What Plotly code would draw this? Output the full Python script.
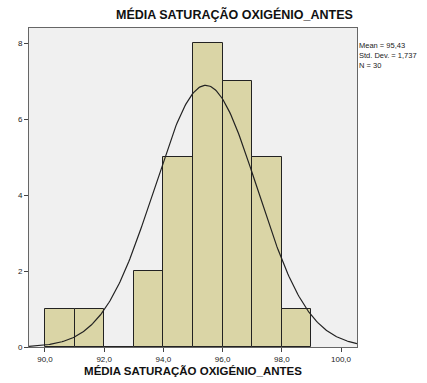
import numpy as np
import plotly.graph_objects as go

bin_starts = [90, 91, 92, 93, 94, 95, 96, 97, 98]
counts = [1, 1, 0, 2, 5, 8, 7, 5, 1]
mean = 95.43
std = 1.737
n = 30
bin_width = 1.0
x_ticks = [90, 92, 94, 96, 98, 100]
x_ticklabels = ["90,0", "92,0", "94,0", "96,0", "98,0", "100,0"]
y_ticks = [0, 2, 4, 6, 8]
title = "MÉDIA SATURAÇÃO OXIGÉNIO_ANTES"

W, H = 427, 383
L, R, T, B = 29, 70, 28, 36
pw = W - L - R
ph = H - T - B

centers = [b + bin_width / 2 for b in bin_starts]
xs = np.linspace(89.46, 100.54, 300)
ys = n * bin_width / (std * np.sqrt(2 * np.pi)) * np.exp(-0.5 * ((xs - mean) / std) ** 2)

fig = go.Figure()
fig.add_trace(go.Bar(x=centers, y=counts, width=bin_width,
                     marker=dict(color="#DAD5A6", line=dict(color="#222222", width=1)),
                     hoverinfo="skip"))
fig.add_trace(go.Scatter(x=xs, y=ys, mode="lines",
                         line=dict(color="#222222", width=1.2), hoverinfo="skip"))

fig.update_layout(
    width=W, height=H,
    margin=dict(l=L, r=R, t=T, b=B, autoexpand=False),
    paper_bgcolor="white", plot_bgcolor="#F0F0F0",
    showlegend=False, bargap=0,
    font=dict(family="Liberation Sans, Arial", size=8, color="#222222"),
    xaxis=dict(range=[89.46, 100.54], tickvals=x_ticks, ticktext=x_ticklabels,
               ticks="outside", ticklen=4, tickcolor="#444444", automargin=False,
               showline=True, linecolor="#666666", linewidth=1, mirror=True,
               showgrid=False, zeroline=False,
               title=dict(text="<b>" + title + "</b>", font=dict(size=11.5, color="#111111"), standoff=4)),
    yaxis=dict(range=[0, 8.4], tickvals=y_ticks, automargin=False,
               ticks="outside", ticklen=4, tickcolor="#444444",
               showline=True, linecolor="#666666", linewidth=1, mirror=True,
               showgrid=False, zeroline=False),
    annotations=[
        dict(text="<b>" + title + "</b>", x=(234 - L) / pw, y=(H - B - 15) / ph,
             xref="paper", yref="paper",
             showarrow=False, font=dict(size=12.5, color="#111111"), xanchor="center", yanchor="middle"),
        dict(text="Mean = 95,43<br>Std. Dev. = 1,737<br>N = 30", x=(358 - L) / pw, y=(H - B - 40) / ph,
             xref="paper", yref="paper", showarrow=False, align="left", borderpad=0,
             xanchor="left", yanchor="top", font=dict(size=7.5, color="#222222")),
    ],
)
fig.write_html("out.html", config={"displayModeBar": False},
               post_script="document.body.style.margin='0';")
